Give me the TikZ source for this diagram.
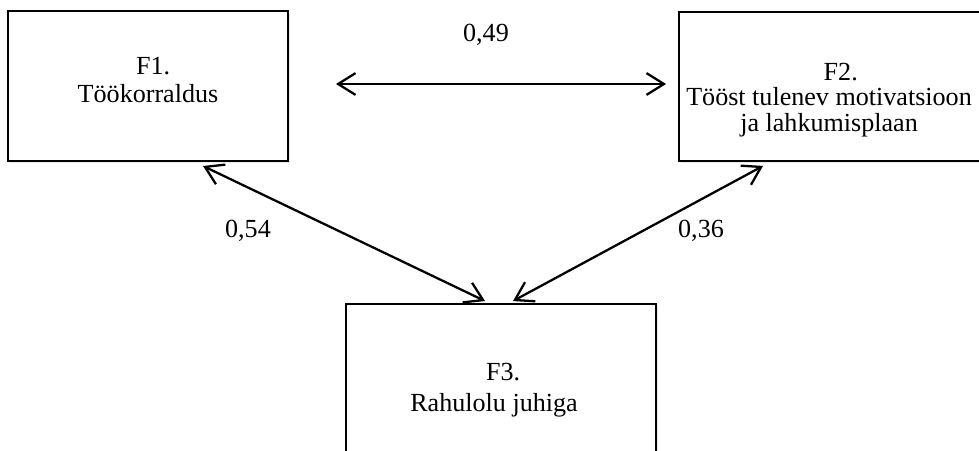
\documentclass[tikz,border=0pt]{standalone}
\usepackage{fontspec}
\setmainfont{Liberation Serif}
\usetikzlibrary{arrows.meta, shadows}

\begin{document}
\begin{tikzpicture}[x=0.46pt, y=-0.46pt, >={Straight Barb[length=8pt, width=10pt]},
    factor/.style={draw, line width=0.9pt, fill=white,
      drop shadow={opacity=0.18, shadow xshift=0.8pt, shadow yshift=-1pt}},
    ftext/.style={align=center, font=\fontsize{12}{13}\selectfont},
    corr/.style={<->, line width=1.05pt},
    coef/.style={font=\fontsize{12}{13}\selectfont}]

      \clip (0,0) rectangle (979,450);

      % the three factors
      \node[factor, minimum width=128.8pt, minimum height=69pt] (f1) at (148, 86) {};
      \node[factor, minimum width=138.9pt, minimum height=68.5pt] (f2) at (830, 86.5) {};
      \node[factor, minimum width=142.6pt, minimum height=73.6pt] (f3) at (501, 384) {};

      \node[ftext] (f1txt) at (148, 80) {\hspace*{0.4em}F1.\\ Töökorraldus};
      \node[ftext] (f2txt) at (829, 100) {\hspace*{0.9em}F2.\\[-1.4pt] Tööst tulenev motivatsioon\\[-1.4pt] ja lahkumisplaan};
      \node[ftext] (f3txt) at (494, 390) {\hspace*{0.7em}F3.\\[1pt] Rahulolu juhiga};

      % correlations
      \draw[corr] ([shift={(47,-2)}]f1.east) -- ([shift={(-12,-2.5)}]f2.west);
      \draw[corr] ([shift={(55,4)}]f1.south) -- ([shift={(-16,-2)}]f3.north);
      \draw[corr] ([shift={(-67,4)}]f2.south) -- ([shift={(12,-2)}]f3.north);

      \node[coef] (r12) at (486, 35) {0,49};
      \node[coef] (r13) at (248, 231) {0,54};
      \node[coef] (r23) at (701, 231) {0,36};
    \end{tikzpicture}
\end{document}
